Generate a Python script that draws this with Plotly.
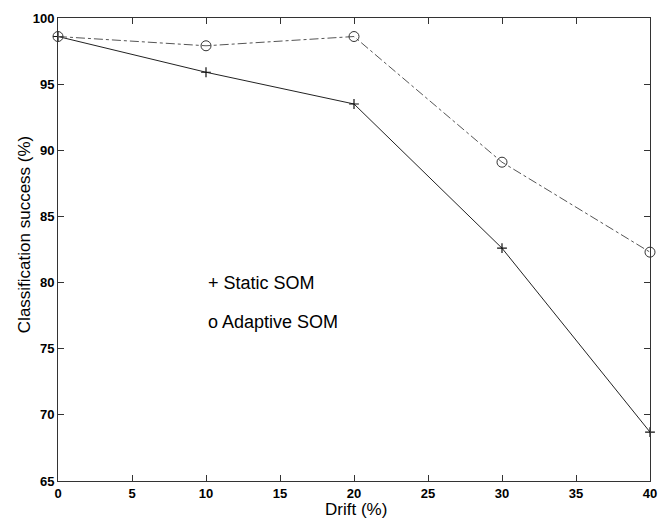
import plotly.graph_objects as go

drift = [0, 10, 20, 30, 40]
static_som = [98.6, 95.9, 93.5, 82.6, 68.7]
adaptive_som = [98.6, 97.9, 98.6, 89.1, 82.3]
x_ticks = [0, 5, 10, 15, 20, 25, 30, 35, 40]
y_ticks = [65, 70, 75, 80, 85, 90, 95, 100]

FONT = "Liberation Sans, Arial, Helvetica"

fig = go.Figure()
fig.add_trace(go.Scatter(
    x=drift, y=static_som, mode="lines+markers",
    line=dict(color="#222222", width=1),
    marker=dict(symbol="cross-thin", size=7, line=dict(color="#111111", width=1.2)),
    showlegend=False, cliponaxis=False))
fig.add_trace(go.Scatter(
    x=drift, y=adaptive_som, mode="lines+markers",
    line=dict(color="#555555", width=1, dash="dashdot"),
    marker=dict(symbol="circle-open", size=10, color="#333333", line=dict(width=1)),
    showlegend=False, cliponaxis=False))

fig.add_annotation(x=10, y=80, text="+ Static SOM", showarrow=False, xanchor="left",
                   yanchor="middle", font=dict(family=FONT, size=18, color="black"))
fig.add_annotation(x=10, y=77, text="o Adaptive SOM", showarrow=False, xanchor="left",
                   yanchor="middle", font=dict(family=FONT, size=18, color="black"))

# axis titles as paper annotations for exact placement
fig.add_annotation(xref="paper", yref="paper", x=0.503, y=-0.062, text="Drift (%)",
                   showarrow=False, xanchor="center", yanchor="middle",
                   font=dict(family=FONT, size=17, color="black"))
fig.add_annotation(xref="paper", yref="paper", x=-0.0574, y=0.531, text="Classification success (%)",
                   showarrow=False, xanchor="center", yanchor="middle", textangle=-90,
                   font=dict(family=FONT, size=17, color="black"))

axis_common = dict(showgrid=False, zeroline=False, showline=True, linecolor="#333333",
                   linewidth=1, mirror="ticks", ticks="inside", ticklen=6,
                   tickcolor="#333333", automargin=False,
                   tickfont=dict(family=FONT, size=13, color="black", weight="bold"))
fig.update_xaxes(range=[0, 40], tickvals=x_ticks, ticklabelstandoff=0, **axis_common)
fig.update_yaxes(range=[65, 100], tickvals=y_ticks, **axis_common)

fig.update_layout(width=658, height=518, margin=dict(l=58, r=8, t=18, b=37),
                  plot_bgcolor="white", paper_bgcolor="white")
fig.write_html("out.html", config={"displayModeBar": False},
               post_script="document.body.style.margin='0';document.body.style.overflow='hidden';")
